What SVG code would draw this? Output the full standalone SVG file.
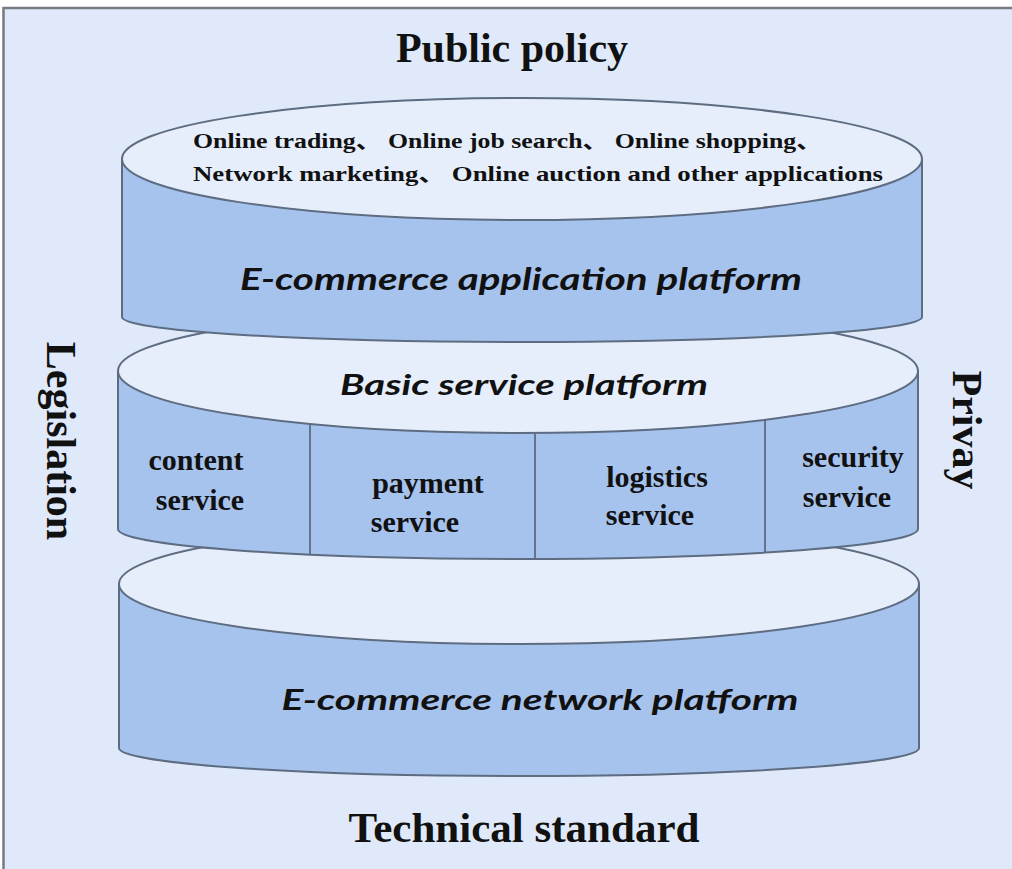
<svg xmlns="http://www.w3.org/2000/svg" width="1012" height="869" viewBox="0 0 1012 869">
  <defs>
    <style>
      .frame { fill: #dfe9f9; stroke: #777c84; stroke-width: 2.5; }
      .body { fill: #a6c3ee; stroke: #5d6c80; stroke-width: 2; }
      .face { fill: #e7eefb; stroke: #5d6c80; stroke-width: 2; }
      .divider { stroke: #5d6c80; stroke-width: 1.8; fill: none; }
      .serif { font-family: "Liberation Serif", "Times New Roman", serif; font-weight: bold; fill: #111; }
      .cjk { font-family: "Liberation Serif", "Noto Sans CJK SC", serif; font-weight: bold; fill: #111; }
      .script { font-family: "Lato", "DejaVu Sans", sans-serif; font-style: italic; font-weight: bold; fill: #111; }
      .title { font-size: 42px; text-anchor: middle; }
      .svc { font-size: 30px; text-anchor: middle; }
    </style>
  </defs>

  <!-- page background -->
  <rect x="0" y="0" width="1012" height="869" fill="#ffffff"/>
  <rect class="frame" x="3.5" y="8" width="1012" height="866"/>

  <!-- surrounding labels -->
  <g id="public-policy"><text class="serif title" x="512" y="62">Public policy</text></g>
  <g id="technical-standard"><text class="serif title" x="524" y="842" textLength="351" lengthAdjust="spacingAndGlyphs">Technical standard</text></g>
  <g id="legislation"><text class="serif title" transform="translate(47,441) rotate(90)" x="0" y="0">Legislation</text></g>
  <g id="privay"><text class="serif title" transform="translate(953,430) rotate(90)" x="0" y="0">Privay</text></g>

  <!-- bottom layer: network platform -->
  <g id="network-platform">
    <path class="body" d="M119,584 L119,748 A400,28 0 0 0 919,748 L919,584 Z"/>
    <ellipse class="face" cx="519" cy="584" rx="400" ry="60"/>
    <text class="script" x="540" y="710" font-size="29" text-anchor="middle" textLength="517" lengthAdjust="spacingAndGlyphs">E-commerce network platform</text>
  </g>

  <!-- middle layer: basic service platform -->
  <g id="basic-service-platform">
    <path class="body" d="M118,371 L118,529 A400,30 0 0 0 918,529 L918,371 Z"/>
    <ellipse class="face" cx="518" cy="371" rx="400" ry="62"/>
    <text class="script" x="524" y="395" font-size="29" text-anchor="middle" textLength="368" lengthAdjust="spacingAndGlyphs">Basic service platform</text>
    <g id="service-dividers">
      <line class="divider" x1="310" y1="424" x2="310" y2="555"/>
      <line class="divider" x1="535" y1="433" x2="535" y2="559"/>
      <line class="divider" x1="765" y1="420" x2="765" y2="553"/>
    </g>
    <g id="content-service">
      <text class="serif svc" x="196" y="470">content</text>
      <text class="serif svc" x="200" y="510">service</text>
    </g>
    <g id="payment-service">
      <text class="serif svc" x="428" y="493">payment</text>
      <text class="serif svc" x="415" y="532">service</text>
    </g>
    <g id="logistics-service">
      <text class="serif svc" x="657" y="487">logistics</text>
      <text class="serif svc" x="650" y="525">service</text>
    </g>
    <g id="security-service">
      <text class="serif svc" x="853" y="467">security</text>
      <text class="serif svc" x="847" y="507">service</text>
    </g>
  </g>

  <!-- top layer: application platform -->
  <g id="application-platform">
    <path class="body" d="M122,159 L122,317 A400,25 0 0 0 922,317 L922,159 Z"/>
    <ellipse class="face" cx="522" cy="159" rx="400" ry="61"/>
    <text class="cjk" x="193" y="148" font-size="21" textLength="629" lengthAdjust="spacingAndGlyphs">Online trading、 Online job search、 Online shopping、</text>
    <text class="cjk" x="193" y="181" font-size="21" textLength="690" lengthAdjust="spacingAndGlyphs">Network marketing、 Online auction and other applications</text>
    <text class="script" x="521" y="290" font-size="30" text-anchor="middle" textLength="562" lengthAdjust="spacingAndGlyphs">E-commerce application platform</text>
  </g>

  <!-- no connectors in this diagram -->
  <g id="connectors"/>
</svg>
